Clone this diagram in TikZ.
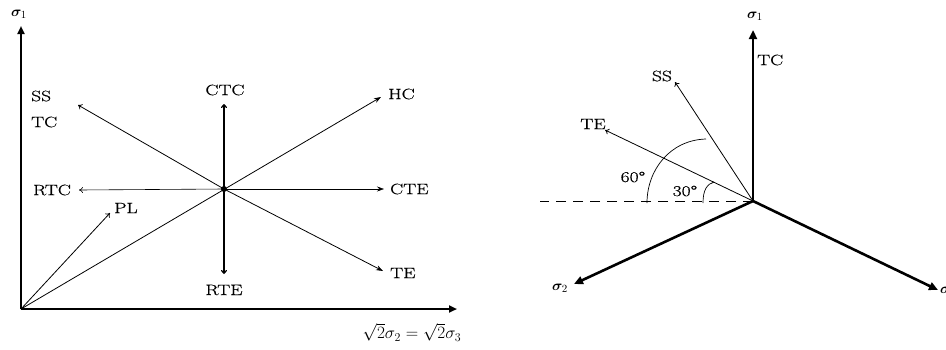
\documentclass[tikz,border=0pt]{standalone}
\usepackage{bm}
\usepackage{fontspec}
\usetikzlibrary{arrows.meta}
\newfontfamily\lblfont{Latin Modern Roman}[FakeStretch=1.3, FakeBold=0.6]
\begin{document}
\begin{tikzpicture}[x=1pt,y=-1pt,
  lbl/.style={font=\lblfont\fontsize{15}{17}\selectfont, inner sep=0pt},
  sig/.style={font=\fontsize{15}{17}\selectfont, inner sep=0pt},
  thinarrow/.style={line width=0.8pt,-{Stealth[length=7pt,width=5pt]}},
  toarrow/.style={line width=0.8pt,-{To[length=4pt,width=6pt]}},
  axis/.style={line width=2.2pt,-{Triangle[length=8pt,width=7pt]}},
  axisR/.style={line width=2.6pt,-{Triangle[length=9pt,width=8pt]}}]
\useasboundingbox (0,0) rectangle (946,349);
% ---------- left diagram ----------
\coordinate (O) at (21,309);
\coordinate (C) at (224,189);
\coordinate (ytip) at (21,26);
\coordinate (xtip) at (457,309);
\coordinate (hc) at (381,97);
\coordinate (sst) at (78,105);
\coordinate (te) at (383,271);
\coordinate (ctc) at (224,104);
\coordinate (rte) at (224,274);
\coordinate (rtc) at (79,190);
\coordinate (cte) at (384,189);
\coordinate (pl) at (110,213);
\draw[axis] (O) -- (ytip);
\draw[axis] (O) -- (xtip);
\node[sig] (s1a) at (19,14) {$\bm{\sigma}_{1}$};
\node[font=\fontsize{17}{19}\selectfont, inner sep=0pt] (xl) at (412,332) {$\sqrt{2}\sigma_2=\sqrt{2}\sigma_3$};
\draw[thinarrow] (O) -- (hc);
\draw[toarrow] (C) -- (sst);
\draw[thinarrow] (C) -- (te);
\draw[toarrow,line width=1.2pt] (C) -- (ctc);
\draw[toarrow,line width=1.2pt] (C) -- (rte);
\draw[toarrow,line width=0.6pt] (C) -- (rtc);
\draw[thinarrow,line width=0.6pt] (C) -- (cte);
\draw[toarrow] (O) -- (pl);
\fill (C) circle (3pt);
\node[lbl] (CTC) at (225,90) {CTC};
\node[lbl, anchor=west] (HC) at (388,94) {HC};
\node[lbl, anchor=west] (SS) at (31,96) {SS};
\node[lbl, anchor=west] (TC) at (31,122) {TC};
\node[lbl] (RTC) at (52,190) {RTC};
\node[lbl, anchor=west] (CTE) at (390,189) {CTE};
\node[lbl, anchor=west] (PL) at (114,208) {PL};
\node[lbl, anchor=west] (TE) at (390,273) {TE};
\node[lbl] (RTE) at (224,290) {RTE};
% ---------- right diagram ----------
\coordinate (R) at (753,201);
\coordinate (s1tip) at (753,30);
\coordinate (s2tip) at (574,284);
\coordinate (s3tip) at (938,290);
\coordinate (dl) at (540,201);
\coordinate (ssR) at (675,82);
\coordinate (teR) at (605,130);
\draw[line width=0.9pt, dash pattern=on 10pt off 7pt] (R) -- (dl);
\draw[axisR] (R) -- (s1tip);
\draw[axisR] (R) -- (s2tip);
\draw[axisR] (R) -- (s3tip);
\draw[toarrow] (R) -- (ssR);
\draw[toarrow] (R) -- (teR);
\draw[line width=0.7pt] (647,203) .. controls (647,170) and (670,140) .. (706,139);
\draw[line width=0.7pt] (703,203) .. controls (703,190) and (707,184) .. (714,182);
\node[sig] (s1b) at (755,16) {$\bm{\sigma}_{1}$};
\node[sig] (s2b) at (560,288) {$\bm{\sigma}_{2}$};
\node[sig, anchor=west] (s3b) at (940,291) {$\bm{\sigma}_{3}$};
\node[lbl, anchor=west] (TCR) at (757,60) {TC};
\node[lbl] (SSR) at (662,76) {SS};
\node[lbl] (TER) at (593,124) {TE};
\node[lbl] (a60) at (633,177) {60°};
\node[lbl] (a30) at (685,191) {30°};
\end{tikzpicture}
\end{document}
